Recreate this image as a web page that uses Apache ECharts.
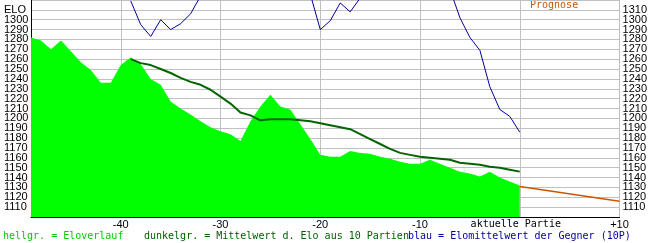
<!DOCTYPE html>
<html><head><meta charset="utf-8">
<script src="https://cdn.jsdelivr.net/npm/echarts@6/dist/echarts.min.js"></script>
<style>html,body{margin:0;padding:0;background:#fff}#c{width:650px;height:243px}</style>
</head><body><div id="c"></div>
<script>
// Game index relative to current game (0 = "aktuelle Partie")
const eloStart = -49;
const eloValues = [1282,1279,1270,1279,1268,1257,1249,1236,1236,1254,
  1262,1255,1240,1234,1217,1210,1204,1197,1191,1187,
  1184,1177,1197,1212,1224,1212,1209,1194,1179,1163,
  1161,1161,1167,1165,1164,1161,1159,1156,1154,1154,
  1158,1154,1150,1146,1144,1141,1146,1140,1136,1132];
const meanStart = -39;
const meanValues = [1260,1256,1254,1250,1246,1241,1237,1234,1229,1222,
  1215,1206,1203,1198,1199,1199,1199,1198,1197,1195,
  1193,1191,1189,1184,1179,1174,1169,1165,1163,1161,
  1160,1159,1158,1155,1154,1153,1151,1150,1148,1146];
const oppStart = -39;
const oppValues = [1319,1295,1283,1300,1290,1296,1306,1324,1340,1350,
  1355,1350,1345,1350,1345,1340,1335,1330,1326,1290,
  1299,1317,1308,1322,1340,1345,1350,1345,1340,1345,
  1340,1335,1331,1302,1282,1269,1232,1209,1202,1186];
const prognoseGames = [0, 10];
const prognoseValues = [1131, 1116];
const xTickLabels = {'-40':'-40','-30':'-30','-20':'-20','-10':'-10','0':'aktuelle Partie','10':'+10'};
const legendTexts = ['hellgr. = Eloverlauf','dunkelgr. = Mittelwert d. Elo aus 10 Partien','blau = Elomittelwert der Gegner (10P)'];
const prognoseLabel = 'Prognose';
const yTopLabel = 'ELO';

const toPairs = (start, arr) => arr.map((v, i) => [start + i, v]);
const mono = 'DejaVu Sans Mono';

const chart = echarts.init(document.getElementById('c'), null, {renderer: 'canvas'});
chart.setOption({
  animation: false,
  backgroundColor: '#fff',
  grid: {left: 31, right: 30, top: -3, bottom: 26, containLabel: false},
  xAxis: {
    type: 'value', min: -49, max: 10, minInterval: 10, maxInterval: 10,
    axisLine: {show: true, onZero: false, lineStyle: {color: '#000', width: 1}},
    axisTick: {show: false},
    splitLine: {show: true, lineStyle: {color: '#c0c0c0', width: 1}},
    axisLabel: {
      margin: 2, color: '#000', fontFamily: 'Liberation Sans', fontSize: 11,
      formatter: v => { const l = xTickLabels[String(Math.round(v))]; if (l === undefined || Math.round(v) !== v) return ''; return v === 0 ? '{m|' + l + '}' : l; },
      rich: {m: {fontFamily: mono, fontSize: 10, color: '#000', padding: [0, 8, 0, 0]}}
    }
  },
  yAxis: [{
    type: 'value', min: 1100, max: 1320, interval: 10, position: 'left',
    axisLine: {show: true, onZero: false, lineStyle: {color: '#000', width: 1}},
    axisTick: {show: false},
    splitLine: {show: true, lineStyle: {color: '#c0c0c0', width: 1}},
    axisLabel: {
      margin: 27, align: 'left', color: '#000', fontFamily: 'Liberation Sans', fontSize: 11,
      formatter: v => v === 1310 ? yTopLabel : (v === 1100 || v === 1320 ? '' : String(v))
    }
  }, {
    type: 'value', min: 1100, max: 1320, interval: 10, position: 'right',
    axisLine: {show: false, onZero: false}, axisTick: {show: false}, splitLine: {show: false},
    axisLabel: {
      margin: 3, align: 'left', color: '#000', fontFamily: 'Liberation Sans', fontSize: 11,
      formatter: v => v === 1100 ? '' : String(v)
    }
  }],
  series: [{
    type: 'line', data: toPairs(eloStart, eloValues), symbol: 'none', z: 2,
    lineStyle: {width: 0, color: '#00ff00'},
    areaStyle: {color: '#00ff00', opacity: 1, origin: 'start'}
  }, {
    type: 'line', data: toPairs(meanStart, meanValues), symbol: 'none', z: 3,
    lineStyle: {width: 2, color: '#006400'}
  }, {
    type: 'line', data: toPairs(oppStart, oppValues), symbol: 'none', z: 4,
    lineStyle: {width: 1, color: '#000099'}
  }, {
    type: 'line', data: prognoseGames.map((g, i) => [g, prognoseValues[i]]), symbol: 'none', z: 4,
    lineStyle: {width: 1.5, color: '#cc5500'}
  }],
  graphic: [
    {type: 'text', left: 3, top: 231, style: {text: legendTexts[0], fill: '#00cc00', font: '10px "' + mono + '"'}},
    {type: 'text', left: 144, top: 231, style: {text: legendTexts[1], fill: '#006000', font: '10px "' + mono + '"'}},
    {type: 'text', left: 408, top: 231, style: {text: legendTexts[2], fill: '#000099', font: '10px "' + mono + '"'}},
    {type: 'text', left: 530, top: 0, style: {text: prognoseLabel, fill: '#cc5500', font: '10px "' + mono + '"'}}
  ]
});
</script></body></html>
